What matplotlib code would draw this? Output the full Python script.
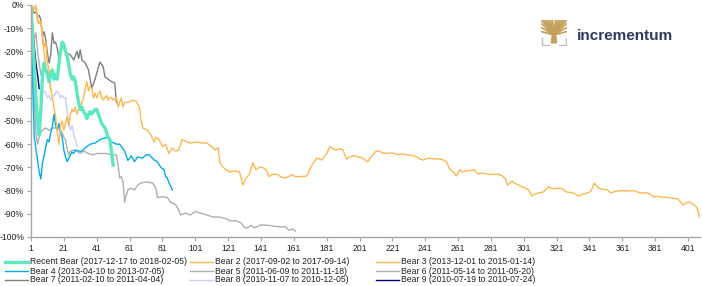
import matplotlib
matplotlib.use("Agg")
import matplotlib.pyplot as plt
from matplotlib.lines import Line2D
from matplotlib.patches import Polygon

plt.rcParams["font.family"] = ["Liberation Sans", "DejaVu Sans"]

# drawdown from peak [%] per day of bear market
recent_day = list(range(1, 52))
recent_val = [0, -15, -25, -40, -50, -56, -45, -30, -25, -28,
              -30, -33, -30, -28, -32, -30, -32, -25, -20, -16,
              -17, -20, -22, -26, -30, -32, -31, -33, -38, -42,
              -45, -44, -46, -47, -49, -47, -46, -47, -46, -45,
              -45, -47, -49, -51, -52, -53, -55, -57, -58, -63, -69]

bear2_day = list(range(1, 14))
bear2_val = [0, -2, -1, 0, -6, -8, -7, -15, -20, -27, -28, -30, -37]

bear3_day = [1, 2, 3, 4, 5, 6, 7, 8, 9, 10, 11, 12, 13, 14, 15, 16, 17, 18, 19, 20,
             21, 22, 23, 24, 25, 26, 27, 28, 29, 30, 31, 32, 33, 34, 35, 36, 37, 38, 39, 40,
             41, 43, 44, 45, 46, 47, 48, 49, 50, 51, 53, 54, 56, 57, 58, 60, 63, 65, 67, 68,
             69, 72, 74, 76, 77, 79, 81, 83, 85, 87, 89, 91, 93, 96, 98, 102, 105, 108, 111, 113,
             115, 116, 118, 120, 122, 125, 128, 130, 132, 134, 136, 138, 140, 142, 144, 146, 148, 151, 153, 155,
             158, 160, 162, 165, 169, 172, 175, 178, 181, 183, 186, 189, 191, 193, 195, 198, 200, 202, 204, 206,
             208, 211, 213, 215, 218, 221, 224, 227, 231, 234, 236, 238, 240, 243, 246, 250, 252, 254, 256, 258,
             260, 262, 264, 266, 269, 271, 273, 276, 278, 280, 283, 285, 288, 290, 291, 294, 296, 298, 300, 302,
             304, 306, 308, 310, 313, 316, 319, 323, 325, 327, 331, 333, 335, 337, 340, 342, 344, 346, 348, 352,
             354, 356, 358, 361, 364, 367, 369, 371, 373, 376, 378, 380, 382, 384, 386, 389, 391, 395, 396, 398,
             400, 402, 404, 406, 407, 408]
bear3_val = [0, -3, -1, -2, -7, -8, -7, -13, -18, -16, -25, -28, -36, -40, -44, -48, -55, -60, -52, -50,
             -54, -51, -48, -52, -47, -45, -46, -44, -47, -45, -44, -42, -40, -36, -33, -37, -35, -36, -40, -38,
             -40, -37, -40, -41, -40, -39, -41, -40, -39.7, -41, -40, -44, -40, -44, -42, -42, -41, -41.5, -44, -49.5,
             -53, -54, -56, -59, -57, -58, -61, -60, -64, -61.6, -63, -62.5, -58, -59, -59.5, -59, -59.5, -59.5, -61, -62.5,
             -61.6, -68, -70, -71, -72, -71.5, -72, -77.6, -74.6, -73, -68, -71, -70, -70, -71, -74, -73, -73, -74, -74.6,
             -74, -73, -74, -74, -73.7, -69, -66, -66.8, -64, -61, -62.5, -62, -62.5, -66.4, -65.5, -65, -65.5, -65.7, -66.5, -67.6,
             -65.5, -63, -63, -63.8, -64, -63.7, -64.5, -64.2, -64.7, -65, -65.5, -66.5, -66.8, -66, -66.3, -66.4, -66.8, -67.6, -71, -72,
             -73.7, -71, -72, -71.5, -71.3, -71, -72.8, -72.4, -72.8, -73, -73, -72.8, -73.7, -75, -77.6, -75.9, -77, -77.6, -78.4, -79,
             -79.7, -82.3, -81.5, -81, -80.6, -78.4, -79.3, -78.9, -79.5, -80.6, -81, -81.8, -82.3, -81.5, -81, -80.2, -76.7, -78.5, -79.3, -79.7,
             -81, -80.5, -80.2, -80, -80.2, -80, -80.2, -80.8, -81, -81, -81.5, -82.8, -82.4, -82.8, -82.8, -83, -83.2, -83.6, -84.5, -86.2,
             -85.2, -84.9, -85.8, -87, -88.5, -91.4]

bear4_day = [1, 2, 3, 4, 5, 6, 7, 8, 9, 10, 11, 12, 13, 14, 15, 16, 17, 18, 19, 20,
             21, 22, 23, 24, 25, 26, 27, 28, 30, 32, 34, 37, 40, 43, 45, 47, 50, 53, 55, 58,
             60, 62, 64, 66, 69, 71, 73, 76, 78, 80, 82, 83, 84, 85, 86, 87]
bear4_val = [0, -33, -57, -62, -67, -72, -75, -68, -65, -61, -58, -59, -55, -52.5, -47, -52, -54, -51, -55, -57,
             -62.5, -65.5, -67.5, -66, -64.6, -63.4, -64, -62.5, -63, -63, -61.6, -60, -59.5, -58, -57.5, -57, -59, -60, -60, -63,
             -67, -65, -67.5, -65.5, -66, -64.6, -64.6, -66.8, -67.6, -70, -71, -74, -74.6, -76.7, -78, -79.7]

bear5_day = [1, 2, 3, 4, 5, 6, 7, 8, 10, 12, 14, 16, 18, 19, 20, 21, 22, 23, 24, 25,
             27, 29, 31, 33, 36, 39, 41, 43, 45, 47, 50, 53, 54, 55, 56, 57, 58, 59, 60, 62,
             64, 66, 68, 71, 75, 77, 78, 81, 84, 86, 89, 91, 92, 95, 98, 101, 104, 108, 112, 116,
             120, 122, 126, 129, 131, 133, 135, 137, 141, 146, 152, 156, 158, 160, 162]
bear5_val = [0, -20, -40, -55, -60, -57, -55, -54, -53, -54, -53, -53, -53, -54, -55, -57, -58, -62, -64.6, -63,
             -62.5, -63, -64, -63, -64, -64.6, -64, -64, -64, -64, -64.6, -64.6, -69, -74.6, -74, -76, -85, -82, -79.7, -79,
             -79.7, -77.6, -76.7, -76.3, -76.7, -79, -83, -82.6, -83, -85, -86, -88.4, -90.5, -89.7, -90.5, -89, -89.7, -90.5, -91.4, -91.4,
             -92.2, -93, -93, -94, -96, -96, -95, -96, -94.8, -95, -95.6, -95.6, -97, -96.6, -97.4]

bear6_day = list(range(1, 8))
bear6_val = [0, -8, -15, -12, -20, -25, -30]

bear7_day = [1, 2, 3, 4, 5, 6, 7, 8, 9, 10, 11, 12, 13, 14, 15, 16, 17, 18, 19, 20,
             21, 22, 23, 25, 27, 29, 30, 31, 32, 34, 36, 37, 38, 39, 40, 42, 43, 45, 46, 48,
             50, 52, 53]
bear7_val = [0, -2, -3.5, -3, -5, -4.5, -6.5, -13.6, -11.5, -15, -20.8, -25, -21.5, -12, -16.5, -16, -18.7, -23, -20.7, -16.5,
             -18, -20.7, -21, -21.5, -23.7, -20, -23, -19.4, -23.7, -25, -28, -32, -35.8, -34, -32, -27, -24.6, -26.7, -31, -32,
             -33, -33.6, -42]

bear8_day = list(range(1, 30))
bear8_val = [0, -32, -40, -45, -50, -52, -45, -38, -37, -38,
             -40, -39, -41, -40, -39, -38, -37, -38, -40, -39,
             -40, -40, -46, -51, -54, -52, -56, -58, -61]

bear9_day = list(range(1, 7))
bear9_val = [0, -10, -18, -25, -30, -36]

labels = ["Recent Bear (2017-12-17 to 2018-02-05)", "Bear 2 (2017-09-02 to 2017-09-14)",
          "Bear 3 (2013-12-01 to 2015-01-14)", "Bear 4 (2013-04-10 to 2013-07-05)",
          "Bear 5 (2011-06-09 to 2011-11-18)", "Bear 6 (2011-05-14 to 2011-05-20)",
          "Bear 7 (2011-02-10 to 2011-04-04)", "Bear 8 (2010-11-07 to 2010-12-05)",
          "Bear 9 (2010-07-19 to 2010-07-24)"]
days = [recent_day, bear2_day, bear3_day, bear4_day, bear5_day,
        bear6_day, bear7_day, bear8_day, bear9_day]
vals = [recent_val, bear2_val, bear3_val, bear4_val, bear5_val,
        bear6_val, bear7_val, bear8_val, bear9_val]
colors = ["#5EE8C0", "#FFB74F", "#FFB74F", "#00AEEF", "#AFAFAF",
          "#AFAFAF", "#7F7F7F", "#CCCCFF", "#000080"]
widths = [2.4, 1.0, 1.0, 1.0, 1.0, 1.0, 1.0, 1.0, 1.0]

x_ticks = list(range(1, 402, 20))
y_ticks = list(range(-100, 1, 10))

W, H = 702, 286
fig = plt.figure(figsize=(W / 100, H / 100), dpi=100)
ax = fig.add_axes([31 / W, 1 - 237 / H, 669 / W, 232 / H])

# draw back to front so recent bear sits on top
for i in [8, 7, 6, 5, 4, 3, 2, 1, 0]:
    ax.plot(days[i], vals[i], color=colors[i], lw=widths[i], solid_joinstyle="round")

ax.set_xlim(1, 408.3)
ax.set_ylim(-100, 0)
ax.set_xticks(x_ticks)
ax.set_yticks(y_ticks)
ax.set_yticklabels([f"{v}%" for v in y_ticks])
for s in ["top", "right"]:
    ax.spines[s].set_visible(False)
for s in ["left", "bottom"]:
    ax.spines[s].set_color("#A6A6A6")
    ax.spines[s].set_linewidth(1.0)
ax.tick_params(axis="both", length=3, width=0.8, color="#A6A6A6",
               labelsize=6.2, labelcolor="#222222", pad=2)

# legend, three columns drawn by hand
col_x = [5, 190, 376]
row_y = [262, 271, 280]
for i, lab in enumerate(labels):
    x0 = col_x[i % 3]
    y0 = row_y[i // 3]
    fig.add_artist(Line2D([x0 / W, (x0 + 23) / W], [1 - y0 / H, 1 - y0 / H],
                          color=colors[i], lw=widths[i], transform=fig.transFigure))
    fig.text((x0 + 25) / W, 1 - y0 / H, lab, fontsize=6.2, color="#222222",
             va="center", ha="left")

# incrementum logo
gold = "#C3A15C"
lax = fig.add_axes([541 / W, 1 - 46 / H, 26 / W, 26 / H])
lax.set_xlim(0, 1)
lax.set_ylim(0, 1)
lax.axis("off")
lax.add_patch(Polygon([[0.40, 0.12], [0.60, 0.12], [0.56, 0.5], [0.44, 0.5]], color=gold))
for tx in [0.04, 0.12, 0.2, 0.28, 0.36, 0.44, 0.56, 0.64, 0.72, 0.8, 0.88, 0.96]:
    lax.plot([0.5, tx], [0.45, 0.97], color=gold, lw=1.3)
for ty in [0.55, 0.7, 0.85]:
    lax.plot([0.5, 0.03], [0.42, ty], color=gold, lw=1.2)
    lax.plot([0.5, 0.97], [0.42, ty], color=gold, lw=1.2)
lax.plot([0.02, 0.02, 0.3], [0.3, 0.02, 0.02], color="#BDBDBD", lw=1.0)
lax.plot([0.98, 0.98, 0.7], [0.3, 0.02, 0.02], color="#BDBDBD", lw=1.0)
fig.text(577 / W, 1 - 40 / H, "incrementum", fontsize=11, fontweight="bold",
         color="#2E3A63", ha="left", va="baseline")

fig.savefig("out.png", dpi=100)
